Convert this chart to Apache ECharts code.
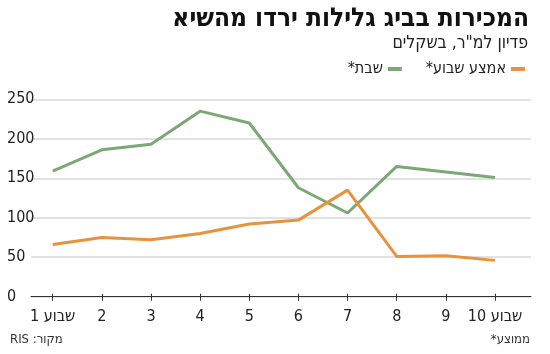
<!DOCTYPE html>
<html dir="rtl">
<head>
<meta charset="utf-8">
<script src="https://cdn.jsdelivr.net/npm/echarts@6/dist/echarts.min.js"></script>
<style>
  html, body { margin: 0; padding: 0; background: #fff; }
  #chart { width: 550px; height: 354px; }
</style>
</head>
<body>
<div id="chart"></div>
<script>
// weeks on the x axis
const weeks = [1, 2, 3, 4, 5, 6, 7, 8, 9, 10]
const weekLabels = ['שבוע 1', '2', '3', '4', '5', '6', '7', '8', '9', 'שבוע 10']

// revenue per sqm, NIS
const weekdayValues = [66, 75, 72, 80, 92, 97, 135, 51, 52, 46]
const saturdayValues = [159, 186, 193, 235, 220, 138, 106, 165, 158, 151]

const yTicks = [0, 50, 100, 150, 200, 250]

const FONT = '"Liberation Sans Narrow", "DejaVu Sans Condensed", sans-serif'
const GREEN = '#7ba875'
const ORANGE = '#e8923d'

const chart = echarts.init(document.getElementById('chart'))

const toPairs = (vals) => weeks.map((w, i) => [w, vals[i]])

const option = {
  animation: false,
  textStyle: { fontFamily: FONT },
  title: [
    {
      text: 'המכירות בביג גלילות ירדו מהשיא',
      right: 16,
      top: 1,
      textStyle: { fontFamily: FONT, fontSize: 26, fontWeight: 'bold', color: '#111' }
    },
    {
      text: 'פדיון למ"ר, בשקלים',
      right: 17,
      top: 29,
      textStyle: { fontFamily: FONT, fontSize: 17.5, fontWeight: 'normal', color: '#222' }
    }
  ],
  legend: {
    right: 20,
    top: 56,
    align: 'right',
    itemWidth: 14,
    itemHeight: 4,
    itemGap: 24,
    icon: 'rect',
    textStyle: { fontFamily: FONT, fontSize: 16, color: '#222' },
    data: ['שבת*', 'אמצע שבוע*']
  },
  grid: { left: 31, right: 19, top: 99.3, bottom: 57.3, containLabel: false },
  xAxis: [
    {
      type: 'value',
      min: 1 - 21.7 / 49.14,
      max: 10 + 36 / 49.14,
      axisLine: { show: true, lineStyle: { color: '#333', width: 1 } },
      axisTick: { show: true, length: 4, customValues: weeks, lineStyle: { color: '#333' } },
      splitLine: { show: false },
      axisLabel: {
        customValues: weeks,
        margin: 12,
        fontFamily: FONT,
        fontSize: 16,
        color: '#222',
        formatter: (v) => weekLabels[weeks.indexOf(v)]
      }
    },
    {
      type: 'value',
      position: 'bottom',
      min: 1 - 21.7 / 49.14,
      max: 10 + 36 / 49.14,
      axisLine: { show: false },
      axisTick: { show: true, inside: true, length: 3, customValues: weeks, lineStyle: { color: '#333' } },
      axisLabel: { show: false },
      splitLine: { show: false }
    }
  ],
  yAxis: {
    type: 'value',
    min: 0,
    max: 250,
    interval: 50,
    axisLine: { show: false },
    axisTick: { show: false },
    axisLabel: {
      align: 'left',
      margin: 24,
      fontFamily: FONT,
      fontSize: 16,
      color: '#222',
      formatter: (v) => (yTicks.includes(v) ? String(v) : '')
    },
    splitLine: {
      show: true,
      lineStyle: { color: '#d9d9d9', width: 1.5 }
    }
  },
  graphic: [
    {
      type: 'text',
      left: 10,
      top: 333,
      style: { text: 'מקור: RIS', font: '13px ' + FONT, fill: '#333' }
    },
    {
      type: 'text',
      right: 20,
      top: 333,
      style: { text: 'ממוצע*', font: '13px ' + FONT, fill: '#333' }
    }
  ],
  series: [
    {
      name: 'שבת*',
      type: 'line',
      data: toPairs(saturdayValues),
      symbol: 'none',
      color: GREEN,
      lineStyle: { width: 3, color: GREEN }
    },
    {
      name: 'אמצע שבוע*',
      type: 'line',
      data: toPairs(weekdayValues),
      symbol: 'none',
      color: ORANGE,
      lineStyle: { width: 3, color: ORANGE }
    }
  ]
}

chart.setOption(option)
</script>
</body>
</html>
